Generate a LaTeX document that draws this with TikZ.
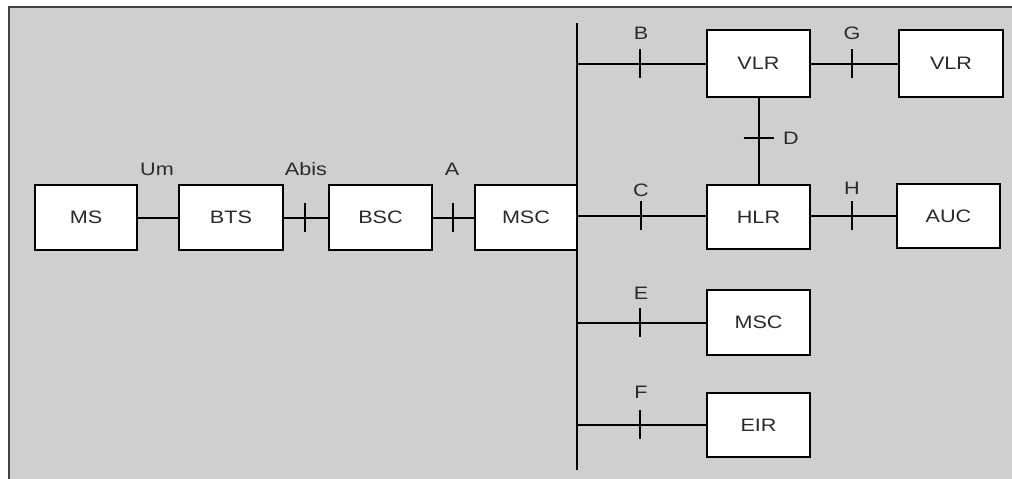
\documentclass[tikz,border=0pt]{standalone}
\usepackage{fontspec}
\setmainfont{Liberation Sans}[FakeStretch=1.2]
\definecolor{panel}{HTML}{CFCFCF}
\definecolor{frame}{HTML}{404040}
\definecolor{ink}{HTML}{2A2A2A}
\begin{document}
\begin{tikzpicture}[x=1pt,y=-1pt,
  unit/.style={draw=black,line width=2pt,fill=white,minimum width=103pt,
    minimum height=65pt,inner sep=0pt,font=\fontsize{18}{21}\selectfont,text=ink},
  link/.style={line width=2pt,draw=black},
  tag/.style={font=\fontsize{18}{21}\selectfont,text=ink,inner sep=0pt}]
\useasboundingbox (0,0) rectangle (1012,479);
% grey panel with its framed top and left edges
\fill[panel] (9,7) rectangle (1012,479);
\draw[frame,line width=2.5pt] (9,479) -- (9,7) -- (1012,7);

% network elements
\node[unit,minimum width=102pt] (ms)   at (86,217.5)    {MS};
\node[unit,minimum width=104pt] (bts)  at (231,217.5)   {BTS};
\node[unit]                     (bsc)  at (380.5,217.5) {BSC};
\node[unit,minimum width=102pt] (msc)  at (526,217.5)   {MSC};
\node[unit,minimum height=67pt] (vlr)  at (758.5,63.5)  {VLR};
\node[unit,minimum width=104pt,minimum height=67pt] (vlrb) at (951,63.5) {VLR};
\node[unit,minimum height=64pt] (hlr)  at (758.5,217)   {HLR};
\node[unit,minimum height=64pt] (auc)  at (948.5,216)   {AUC};
\node[unit]                     (mscb) at (758.5,322.5) {MSC};
\node[unit,minimum height=64pt] (eir)  at (758.5,425)   {EIR};

% vertical bus behind the MSC
\coordinate (bustop) at (577,23);
\coordinate (busbot) at (577,470);
\draw[link] (bustop) -- (busbot);

% interfaces, each with its crossing tick
\draw[link] (ms.east) -- (bts.west);
\draw[link] (bts.east) -- coordinate[pos=0.48] (tAbis) (bsc.west);
\draw[link] (bsc.east) -- coordinate[pos=0.48] (tA) (msc.west);
\draw[link] (bustop |- vlr.west) -- coordinate[pos=0.49] (tB) (vlr.west);
\draw[link] (vlr.east) -- coordinate[pos=0.47] (tG) (vlrb.west);
\draw[link] (vlr.south) -- coordinate[pos=0.46] (tD) (hlr.north);
\draw[link] (msc.east |- auc.west) -- coordinate[pos=0.49] (tC) (hlr.west |- auc.west);
\draw[link] (hlr.east |- auc.west) -- coordinate[pos=0.48] (tH) (auc.west);
\draw[link] (bustop |- mscb.west) -- coordinate[pos=0.49] (tE) (mscb.west);
\draw[link] (bustop |- eir.west) -- coordinate[pos=0.49] (tF) (eir.west);

\foreach \t in {tAbis,tA,tB,tG,tC,tH,tE,tF}
  \draw[link] ([yshift=-14pt]\t) -- ([yshift=15pt]\t);
\draw[link] ([xshift=-15pt]tD) -- ([xshift=15pt]tD);

% interface names
\node[tag] (lUm)   at (157,169) {Um};
\node[tag] (lAbis) at (306,169) {Abis};
\node[tag] (lA)    at (452,169) {A};
\node[tag] (lB)    at (641,33)  {B};
\node[tag] (lG)    at (852,33)  {G};
\node[tag] (lD)    at (791,138) {D};
\node[tag] (lC)    at (641,190) {C};
\node[tag] (lH)    at (852,188) {H};
\node[tag] (lE)    at (641,293) {E};
\node[tag] (lF)    at (641,392) {F};
\end{tikzpicture}
\end{document}
